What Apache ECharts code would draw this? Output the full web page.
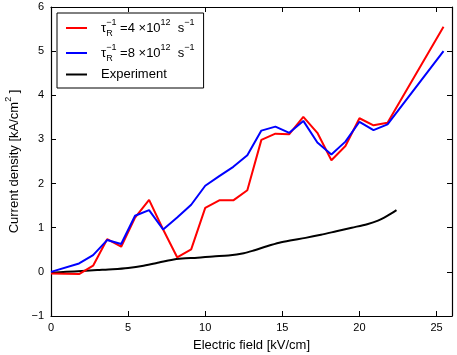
<!DOCTYPE html>
<html>
<head>
<meta charset="utf-8">
<script src="https://cdn.jsdelivr.net/npm/echarts@6/dist/echarts.min.js"></script>
<style>
  html, body { margin: 0; padding: 0; background: #fff; }
  #chart { width: 457px; height: 355px; }
</style>
</head>
<body>
<div id="chart"></div>
<script>
  // electric field points (kV/cm)
  var fieldX = [0, 1.82, 2.73, 3.64, 4.55, 5.45, 6.36, 7.27, 8.18, 9.09, 10, 10.91, 11.82,
    12.73, 13.64, 14.55, 15.45, 16.36, 17.27, 18.18, 19.09, 20, 20.91, 21.82, 25.45];
  var tau4 = [-0.04, -0.05, 0.14, 0.74, 0.57, 1.23, 1.63, 0.96, 0.33, 0.51, 1.45, 1.62, 1.62,
    1.85, 2.99, 3.13, 3.12, 3.51, 3.15, 2.53, 2.85, 3.48, 3.32, 3.38, 5.55];
  var tau8 = [0.0, 0.19, 0.38, 0.72, 0.63, 1.27, 1.40, 0.96, 1.23, 1.52, 1.95, 2.17, 2.38,
    2.64, 3.2, 3.29, 3.15, 3.42, 2.93, 2.66, 2.95, 3.40, 3.21, 3.34, 5.0];
  // measured curve
  var expX = [0, 1, 2, 3, 4, 5, 6, 7, 7.8, 8.5, 9.5, 10.5, 11.5, 12.5, 13.2, 14, 14.8,
    15.5, 16.5, 17.5, 18.5, 19.5, 20.5, 21.2, 21.8, 22.4];
  var expY = [-0.02, 0.0, 0.02, 0.04, 0.06, 0.09, 0.14, 0.21, 0.27, 0.30, 0.32, 0.35, 0.37,
    0.42, 0.49, 0.58, 0.66, 0.71, 0.77, 0.84, 0.92, 1.0, 1.08, 1.16, 1.27, 1.40];
  var xTicks = [0, 5, 10, 15, 20, 25];
  var yTicks = [-1, 0, 1, 2, 3, 4, 5, 6];

  function pairs(xs, ys) {
    return xs.map(function (x, i) { return [x, ys[i]]; });
  }

  var font = 'Liberation Sans, Arial, sans-serif';
  var legendNames = {
    r4: '{t|τ}{sub|R}{sup|−1}{n| =4 ×10}{sup|12}{n|  s}{sup|−1}',
    r8: '{t|τ}{sub|R}{sup|−1}{n| =8 ×10}{sup|12}{n|  s}{sup|−1}',
    Experiment: 'Experiment'
  };

  function frameAxis(ticks) {
    return {
      axisLine: { show: true, onZero: false, lineStyle: { color: '#000', width: 1.2 } },
      axisTick: { show: true, inside: true, length: 5, customValues: ticks, lineStyle: { color: '#000' } },
      axisLabel: { show: false },
      splitLine: { show: false }
    };
  }

  var chart = echarts.init(document.getElementById('chart'));
  chart.setOption({
    animation: false,
    textStyle: { fontFamily: font, color: '#000' },
    grid: { left: 51, right: 5, top: 7, bottom: 39, outerBoundsMode: 'none', containLabel: false },
    legend: {
      orient: 'vertical',
      left: 57,
      top: 13,
      padding: [5, 9, 7, 9],
      itemGap: 5,
      itemWidth: 21,
      itemHeight: 2,
      icon: 'rect',
      borderColor: '#000',
      borderWidth: 1,
      backgroundColor: '#fff',
      data: ['r4', 'r8', 'Experiment'],
      formatter: function (name) { return legendNames[name]; },
      textStyle: {
        fontFamily: font, fontSize: 13, color: '#000', lineHeight: 13,
        padding: [0, 0, 0, 9],
        rich: {
          n: { fontFamily: font, fontSize: 13, lineHeight: 20 },
          t: { fontFamily: font, fontSize: 13, lineHeight: 20 },
          sub: { fontFamily: font, fontSize: 9, verticalAlign: 'bottom', width: 0.1 },
          sup: { fontFamily: font, fontSize: 9, verticalAlign: 'top' }
        }
      }
    },
    xAxis: [{
      type: 'value', min: 0, max: 26,
      name: 'Electric field [kV/cm]', nameLocation: 'middle', nameGap: 23,
      nameTextStyle: { fontFamily: font, fontSize: 13, color: '#000' },
      axisLine: { show: true, onZero: false, lineStyle: { color: '#000', width: 1.2 } },
      axisTick: { show: true, inside: true, length: 5, customValues: xTicks, lineStyle: { color: '#000' } },
      axisLabel: { fontFamily: font, fontSize: 11, color: '#000', margin: 6, customValues: xTicks },
      splitLine: { show: false }
    }, Object.assign({ type: 'value', position: 'top', min: 0, max: 26 }, frameAxis(xTicks))],
    yAxis: [{
      type: 'value', min: -1, max: 6,
      name: '{n|Current density [kA/cm}{s|2}{n| ]}', nameLocation: 'middle', nameGap: 22, nameRotate: 90,
      nameTextStyle: {
        fontFamily: font, fontSize: 13, color: '#000',
        rich: {
          n: { fontFamily: font, fontSize: 13, lineHeight: 20 },
          s: { fontFamily: font, fontSize: 9, verticalAlign: 'top' }
        }
      },
      axisLine: { show: true, onZero: false, lineStyle: { color: '#000', width: 1.2 } },
      axisTick: { show: true, inside: true, length: 5, customValues: yTicks, lineStyle: { color: '#000' } },
      axisLabel: {
        fontFamily: font, fontSize: 11, color: '#000', margin: 7, customValues: yTicks,
        formatter: function (v) { return v < 0 ? '−' + Math.abs(v) : String(v); }
      },
      splitLine: { show: false }
    }, Object.assign({ type: 'value', position: 'right', min: -1, max: 6 }, frameAxis(yTicks))],
    series: [{
      name: 'r4', type: 'line', data: pairs(fieldX, tau4),
      showSymbol: false, color: '#ff0000', lineStyle: { width: 2, color: '#ff0000' }, z: 3
    }, {
      name: 'r8', type: 'line', data: pairs(fieldX, tau8),
      showSymbol: false, color: '#0000ff', lineStyle: { width: 2, color: '#0000ff' }, z: 4
    }, {
      name: 'Experiment', type: 'line', data: pairs(expX, expY), smooth: 0.3,
      showSymbol: false, color: '#000', lineStyle: { width: 2, color: '#000' }, z: 2
    }]
  });
</script>
</body>
</html>
